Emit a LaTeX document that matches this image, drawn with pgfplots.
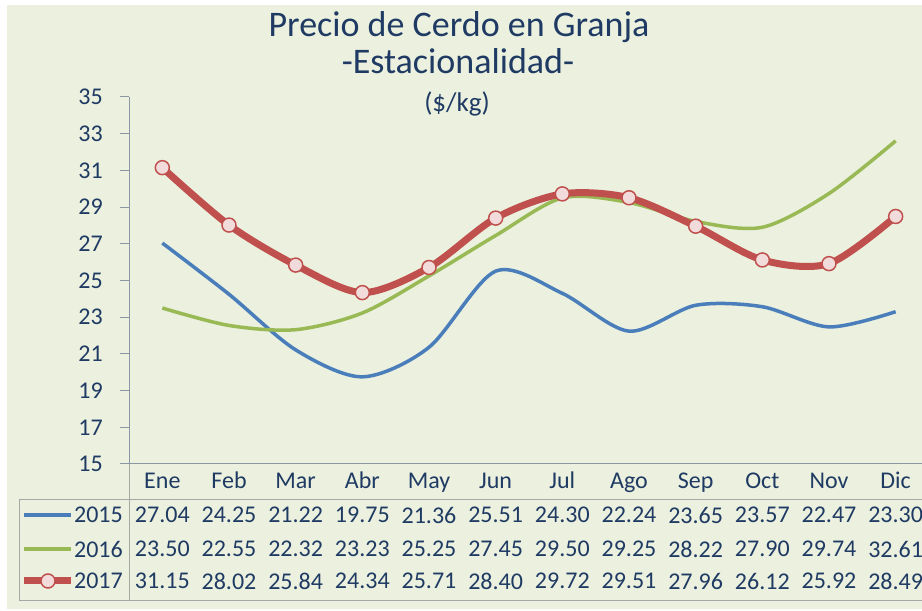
\documentclass[border=0pt]{standalone}
\usepackage{pgfplots}
\pgfplotsset{compat=1.18}
\usepackage{fontspec}
\setmainfont{Carlito}
\definecolor{bg}{HTML}{EBF0DF}
\definecolor{txt}{HTML}{1F3B63}
\definecolor{axl}{HTML}{8A96A3}
\definecolor{tbl}{HTML}{A3A8A6}
\definecolor{c15}{HTML}{4A7EBB}
\definecolor{c16}{HTML}{98B954}
\definecolor{c17}{HTML}{C0504D}
\definecolor{mk}{HTML}{F2DCDB}
\pgfplotstableread{
m v15 v16 v17
0 27.04 23.50 31.15
1 24.25 22.55 28.02
2 21.22 22.32 25.84
3 19.75 23.23 24.34
4 21.36 25.25 25.71
5 25.51 27.45 28.40
6 24.30 29.50 29.72
7 22.24 29.25 29.51
8 23.65 28.22 27.96
9 23.57 27.90 26.12
10 22.47 29.74 25.92
11 23.30 32.61 28.49
}\datatab
\begin{document}
\begin{tikzpicture}[x=1pt,y=1pt]
\useasboundingbox (0,0) rectangle (922,611);
\clip (0,0) rectangle (922,611);
\fill[white] (0,0) rectangle (922,611);
\fill[bg] (7,2) rectangle (930,606);
% titles
\node[anchor=base, text=txt, font=\fontsize{36}{40}\selectfont] at (459,574) {Precio de Cerdo en Granja};
\node[anchor=base, text=txt, font=\fontsize{36}{40}\selectfont] at (458,537) {-Estacionalidad-};
\node[anchor=base, text=txt, font=\fontsize{27}{30}\selectfont] at (457,499) {(\$/kg)};
\begin{axis}[
  scale only axis, width=800pt, height=367pt,
  anchor=south west, at={(129pt,147pt)},
  xmin=-0.5, xmax=11.5, ymin=15, ymax=35,
  ytick={15,17,...,35},
  xtick={0,...,11},
  xticklabels={Ene,Feb,Mar,Abr,May,Jun,Jul,Ago,Sep,Oct,Nov,Dic},
  axis line style={draw=none},
  ytick pos=left, xtick pos=bottom,
  tick align=outside,
  major tick length=9pt,
  ytick style={draw=axl, line width=1pt},
  xtick style={draw=none},
  /pgf/number format/assume math mode=true,
  ticklabel style={text=txt, font=\fontsize{24}{28}\selectfont},
  yticklabel style={inner sep=0pt, xshift=-17pt, anchor=east},
  xticklabel style={anchor=base, yshift=-15pt},
  clip=false,
]
\draw[axl, line width=1pt] (rel axis cs:0,0) -- (rel axis cs:0,1);
\draw[axl, line width=1pt] (rel axis cs:0,0) -- (rel axis cs:1.02,0);
\addplot[c15, line width=3.5pt, smooth, no marks] table[x=m, y=v15] {\datatab};
\addplot[c16, line width=3.5pt, smooth, no marks] table[x=m, y=v16] {\datatab};
\addplot[c17, line width=7pt, smooth, mark=*, mark size=7pt,
  mark options={fill=mk, draw=c17, line width=1.5pt}] table[x=m, y=v17] {\datatab};
\end{axis}
% data table
\draw[tbl, line width=1pt] (19,111) -- (930,111);
\draw[tbl, line width=1pt] (19,10) -- (930,10);
\draw[tbl, line width=1pt] (19,10) -- (19,111);
\draw[tbl, line width=1pt] (129,10) -- (129,147);
% legend keys
\draw[c15, line width=3.5pt] (24,96) -- (71,96);
\draw[c16, line width=3.5pt] (24,62) -- (71,62);
\draw[c17, line width=7pt] (24,30) -- (71,30);
\draw[c17, fill=mk, line width=1.5pt] (48,30) circle (7);
\foreach \lab/\yy in {2015/96, 2016/62, 2017/30}
  \node[anchor=east, text=txt, font=\fontsize{24}{28}\selectfont, inner sep=0pt] at (123,\yy) {\lab};
\foreach \yy/\vals in {96/{27.04,24.25,21.22,19.75,21.36,25.51,24.30,22.24,23.65,23.57,22.47,23.30},
                       62/{23.50,22.55,22.32,23.23,25.25,27.45,29.50,29.25,28.22,27.90,29.74,32.61},
                       30/{31.15,28.02,25.84,24.34,25.71,28.40,29.72,29.51,27.96,26.12,25.92,28.49}}{
  \foreach \v [count=\i from 0] in \vals
    \node[text=txt, font=\fontsize{24}{28}\selectfont, inner sep=0pt] at (162.33+66.667*\i,\yy) {\v};
}
\end{tikzpicture}
\end{document}
